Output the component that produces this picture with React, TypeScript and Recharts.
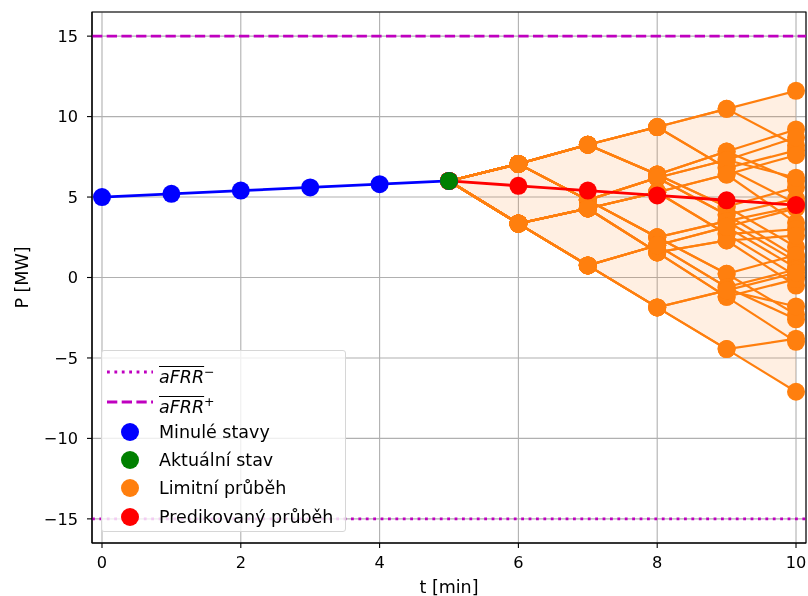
import React from 'react';
import { ComposedChart, Line, Area, XAxis, YAxis, CartesianGrid, ReferenceLine, ReferenceArea } from 'recharts';

// minulé stavy (t = 0..5)
const T_PAST = [0, 1, 2, 3, 4, 5];
const P_PAST = [5.0, 5.2, 5.4, 5.6, 5.8, 6.0];

// aktuální stav
const T_NOW = 5;
const P_NOW = 6.0;

// predikce
const T_FUT = [6, 7, 8, 9, 10];
const P_PRED = [5.7, 5.4, 5.1, 4.8, 4.5];

// limitní průběhy - strom, každý uzel má dva potomky (nahoru, dolů)
const LIM_6 = [7.06, 3.35];
const LIM_7 = [8.25, 4.81, 4.29, 0.75];
const LIM_8 = [9.35, 6.4, 6.2, 2.5, 5.3, 1.56, 2.0, -1.86];
const LIM_9 = [10.48, 6.8, 7.83, 4.4, 7.3, 3.9, 3.5, 0.23, 6.4, 2.7, 2.3, -1.2, 3.15, -0.6, -0.8, -4.45];
const LIM_10 = [
  11.6, 8.2, 7.9, 4.6, 9.2, 6.0, 5.6, 1.9,
  8.7, 6.2, 4.9, 1.3, 4.4, 1.0, 1.4, -2.3,
  7.6, 3.4, 3.0, 0.1, 2.6, -0.5, -0.1, -4.0,
  4.3, 0.6, 0.5, -2.6, 0.3, -1.8, -3.8, -7.1,
];

const AFRR_MAX = 15;
const AFRR_MIN = -15;

const X_TICKS = [0, 2, 4, 6, 8, 10];
const Y_TICKS = [-15, -10, -5, 0, 5, 10, 15];

const X_DOMAIN: [number, number] = [-0.144, 10.144];
const Y_DOMAIN: [number, number] = [-16.5, 16.5];

const C_ORANGE = '#ff7f0e';
const C_MAG = '#bf00bf';

const LEVELS = [LIM_6, LIM_7, LIM_8, LIM_9, LIM_10];

// jednotlivé cesty stromem (od aktuálního stavu k listům)
const limitPaths = LIM_10.map((_, j) => {
  const pts = [{ t: T_NOW, p: P_NOW }];
  LEVELS.forEach((lvl, k) => {
    pts.push({ t: T_FUT[k], p: lvl[j >> (4 - k)] });
  });
  return pts;
});

// obálka pro vyplnění
const bandData = [{ t: T_NOW, band: [P_NOW, P_NOW] }].concat(
  LEVELS.map((lvl, k) => ({ t: T_FUT[k], band: [Math.min(...lvl), Math.max(...lvl)] }))
);

const pastData = T_PAST.map((t, i) => ({ t, p: P_PAST[i] }));
const predData = [{ t: T_NOW, p: P_NOW }].concat(T_FUT.map((t, i) => ({ t, p: P_PRED[i] })));
const nowData = [{ t: T_NOW, p: P_NOW }];

const fmtY = (v: number) => (v < 0 ? `\u2212${-v}` : `${v}`);

const FONT = '"DejaVu Sans", sans-serif';
const tickStyle = { fontSize: 16.2, fill: '#000', fontFamily: FONT };
const labelStyle = { fontSize: 17.5, fill: '#000', fontFamily: FONT };

const AFRR = ({ sign }: { sign: string }) => (
  <span style={{ fontFamily: FONT }}>
    <span style={{ fontStyle: 'italic', textDecoration: 'overline' }}>aFRR</span>
    <sup style={{ fontSize: 12.5, verticalAlign: 7 }}>{sign}</sup>
  </span>
);

const legendRows = [
  { kind: 'dot-line', color: C_MAG, label: <AFRR sign={'\u2212'} />, y: 21 },
  { kind: 'dash-line', color: C_MAG, label: <AFRR sign="+" />, y: 51 },
  { kind: 'circle', color: '#0000ff', label: 'Minulé stavy', y: 81 },
  { kind: 'circle', color: '#008000', label: 'Aktuální stav', y: 109 },
  { kind: 'circle', color: C_ORANGE, label: 'Limitní průběh', y: 137 },
  { kind: 'circle', color: '#ff0000', label: 'Predikovaný průběh', y: 166 },
];

const ChartLegend = () => (
  <div
    style={{
      position: 'absolute',
      left: 93,
      top: 342,
      width: 245,
      height: 182,
      border: '1px solid #d6d6d6',
      borderRadius: 3,
      background: 'rgba(255,255,255,0.8)',
      boxSizing: 'border-box',
      fontFamily: FONT,
      fontSize: 17.5,
      color: '#000',
    }}
  >
    {legendRows.map((r, i) => (
      <div key={i} style={{ position: 'absolute', left: 0, top: r.y - 14, height: 28, width: 243 }}>
        <svg width={52} height={28} style={{ position: 'absolute', left: 3, top: 0 }}>
          {r.kind === 'circle' && <circle cx={25} cy={14} r={9} fill={r.color} />}
          {r.kind === 'dot-line' && (
            <line x1={2} y1={14} x2={48} y2={14} stroke={r.color} strokeWidth={2.8} strokeDasharray="2.8 4.6" />
          )}
          {r.kind === 'dash-line' && (
            <line x1={2} y1={14} x2={48} y2={14} stroke={r.color} strokeWidth={2.8} strokeDasharray="10.3 4.4" />
          )}
        </svg>
        <div style={{ position: 'absolute', left: 57, top: 0, height: 28, lineHeight: '28px', whiteSpace: 'nowrap' }}>
          {r.label}
        </div>
      </div>
    ))}
  </div>
);

export default function App() {
  return (
    <div
      style={{
        position: 'fixed',
        left: 8,
        top: 8,
        width: 800,
        height: 588,
        fontFamily: FONT,
        overflow: 'visible',
      }}
    >
      <ComposedChart width={800} height={588} data={bandData} margin={{ top: 4, right: 2, bottom: 0, left: 0 }}>
        <CartesianGrid stroke="#b0b0b0" strokeWidth={1.1} />
        <XAxis
          type="number"
          dataKey="t"
          domain={X_DOMAIN}
          ticks={X_TICKS}
          allowDataOverflow
          height={53}
          stroke="#000"
          tickSize={5}
          tickMargin={8}
          tick={tickStyle}
          tickLine={{ stroke: '#000', strokeWidth: 1.1 }}
          axisLine={{ stroke: '#000', strokeWidth: 1.1 }}
          label={{ value: 't [min]', position: 'insideBottom', offset: 3, style: { ...labelStyle } }}
        />
        <YAxis
          type="number"
          domain={Y_DOMAIN}
          ticks={Y_TICKS}
          allowDataOverflow
          width={84}
          stroke="#000"
          tickSize={5}
          tickMargin={9}
          tick={tickStyle}
          tickFormatter={fmtY}
          tickLine={{ stroke: '#000', strokeWidth: 1.1 }}
          axisLine={{ stroke: '#000', strokeWidth: 1.1 }}
          label={{
            value: 'P [MW]',
            angle: -90,
            position: 'insideLeft',
            offset: 14,
            style: { ...labelStyle, textAnchor: 'middle' },
          }}
        />
        <Area
          type="linear"
          dataKey="band"
          fill={C_ORANGE}
          fillOpacity={0.12}
          stroke="none"
          isAnimationActive={false}
          activeDot={false}
        />
        <ReferenceLine y={AFRR_MIN} stroke={C_MAG} strokeWidth={2.8} strokeDasharray="2.8 4.6" />
        <ReferenceLine y={AFRR_MAX} stroke={C_MAG} strokeWidth={2.8} strokeDasharray="10.3 4.4" />
        {limitPaths.map((path, i) => (
          <Line
            key={`lim-${i}`}
            data={path}
            dataKey="p"
            type="linear"
            stroke={C_ORANGE}
            strokeWidth={2.2}
            dot={{ r: 9, fill: C_ORANGE, stroke: 'none' }}
            activeDot={false}
            isAnimationActive={false}
          />
        ))}
        <Line
          data={predData}
          dataKey="p"
          type="linear"
          stroke="#ff0000"
          strokeWidth={2.8}
          dot={{ r: 9, fill: '#ff0000', stroke: 'none' }}
          activeDot={false}
          isAnimationActive={false}
        />
        <Line
          data={pastData}
          dataKey="p"
          type="linear"
          stroke="#0000ff"
          strokeWidth={2.8}
          dot={{ r: 9, fill: '#0000ff', stroke: 'none' }}
          activeDot={false}
          isAnimationActive={false}
        />
        <Line
          data={nowData}
          dataKey="p"
          type="linear"
          stroke="#008000"
          strokeWidth={2.8}
          dot={{ r: 9, fill: '#008000', stroke: 'none' }}
          activeDot={false}
          isAnimationActive={false}
        />
        <ReferenceArea
          x1={X_DOMAIN[0]}
          x2={X_DOMAIN[1]}
          y1={Y_DOMAIN[0]}
          y2={Y_DOMAIN[1]}
          fill="none"
          stroke="#000"
          strokeWidth={1.1}
        />
      </ComposedChart>
      <ChartLegend />
    </div>
  );
}
